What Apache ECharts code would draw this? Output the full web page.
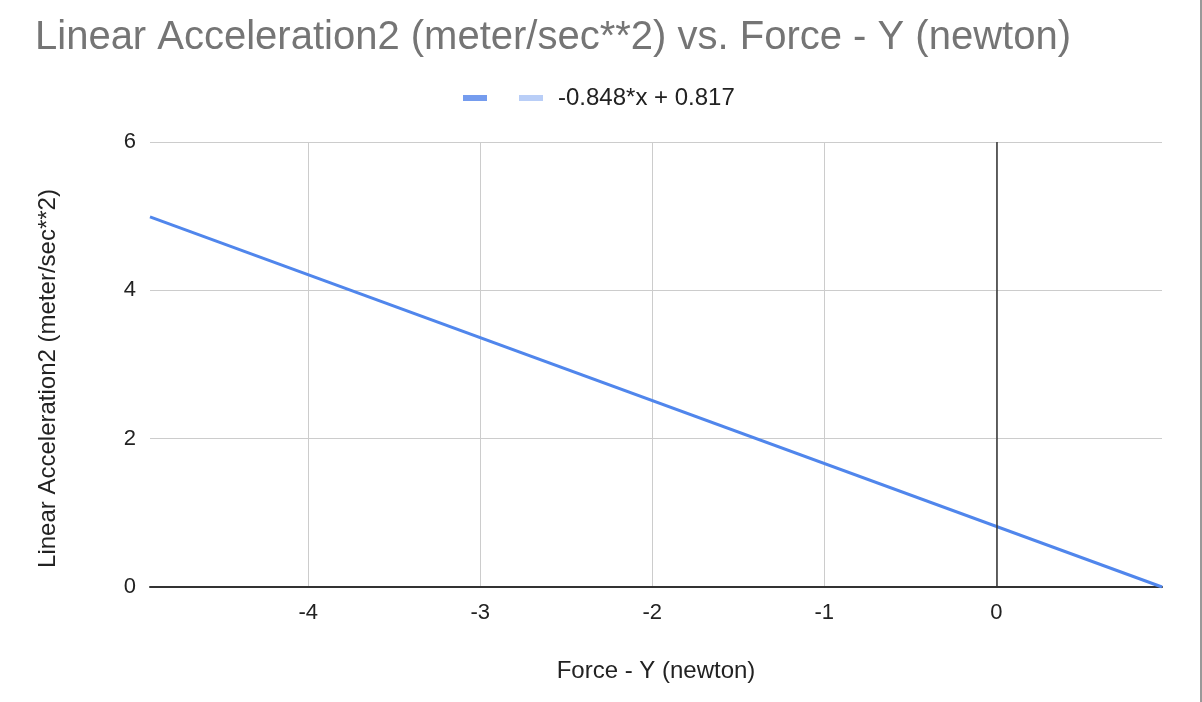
<!DOCTYPE html>
<html>
<head>
<meta charset="utf-8">
<script src="https://cdn.jsdelivr.net/npm/echarts@6/dist/echarts.min.js"></script>
<style>
  html, body { margin: 0; padding: 0; background: #fff; }
  #plot { width: 1202px; height: 702px; }
</style>
</head>
<body>
<div id="plot"></div>
<script>
// 数据
var xTicks = [-4, -3, -2, -1, 0];
var yTicks = [0, 2, 4, 6];
var trendX = [-4.92, 0.963];
var trendY = [4.99, 0.0];
var trendName = '-0.848*x + 0.817';
var dataName = 'data';

var trendData = trendX.map(function (x, i) {
  return [x, trendY[i]];
});

var myChart = echarts.init(document.getElementById('plot'));

var font = 'Liberation Sans, Arial, sans-serif';

var option = {
  backgroundColor: '#fff',
  animation: false,
  textStyle: { fontFamily: font },
  title: {
    text: 'Linear Acceleration2 (meter/sec**2) vs. Force - Y (newton)',
    left: 30,
    top: 13,
    textStyle: {
      fontFamily: font,
      fontSize: 40,
      fontWeight: 'normal',
      color: '#757575'
    }
  },
  legend: {
    left: 458,
    top: 81,
    itemWidth: 24,
    itemHeight: 6,
    itemGap: 32,
    data: [
      { name: dataName, icon: 'rect' },
      { name: trendName, icon: 'rect' }
    ],
    formatter: function (name) {
      return name === dataName ? '' : name;
    },
    textStyle: { fontFamily: font, fontSize: 24, color: '#222', padding: [0, 0, 0, 10] }
  },
  grid: {
    left: 150,
    right: 40,
    top: 142,
    bottom: 115,
    containLabel: false
  },
  xAxis: {
    type: 'value',
    min: trendX[0],
    max: trendX[1],
    name: 'Force - Y (newton)',
    nameLocation: 'middle',
    nameGap: 72,
    nameTextStyle: { fontFamily: font, fontSize: 24, color: '#222' },
    axisLine: { show: true, lineStyle: { color: '#333', width: 2 } },
    axisTick: { show: false, customValues: xTicks },
    axisLabel: {
      customValues: xTicks,
      margin: 15,
      fontFamily: font,
      fontSize: 22,
      color: '#222'
    },
    splitLine: { show: true, customValues: xTicks, lineStyle: { color: '#ccc', width: 1 } }
  },
  yAxis: {
    type: 'value',
    min: 0,
    max: 6,
    interval: 2,
    name: 'Linear Acceleration2 (meter/sec**2)',
    nameLocation: 'middle',
    nameGap: 90,
    nameTextStyle: { fontFamily: font, fontSize: 24, color: '#222', padding: [0, 28, 0, 0] },
    axisLine: { show: false },
    axisTick: { show: false },
    axisLabel: {
      margin: 14,
      fontFamily: font,
      fontSize: 22,
      color: '#222'
    },
    splitLine: { show: true, lineStyle: { color: '#ccc', width: 1 } }
  },
  graphic: [{
    type: 'rect',
    right: 0,
    top: 0,
    shape: { width: 2, height: 702 },
    style: { fill: '#999' },
    silent: true
  }],
  series: [{
    name: dataName,
    type: 'scatter',
    data: [],
    itemStyle: { color: '#5283ea' }
  }, {
    name: trendName,
    type: 'line',
    data: trendData,
    showSymbol: false,
    symbol: 'none',
    itemStyle: { color: '#b9cef7' },
    lineStyle: { color: '#5086ec', width: 3 },
    markLine: {
      silent: true,
      symbol: 'none',
      label: { show: false },
      lineStyle: { color: '#333', width: 1.5, type: 'solid' },
      data: [{ xAxis: 0 }]
    },
    z: 3
  }]
};

myChart.setOption(option);
</script>
</body>
</html>
